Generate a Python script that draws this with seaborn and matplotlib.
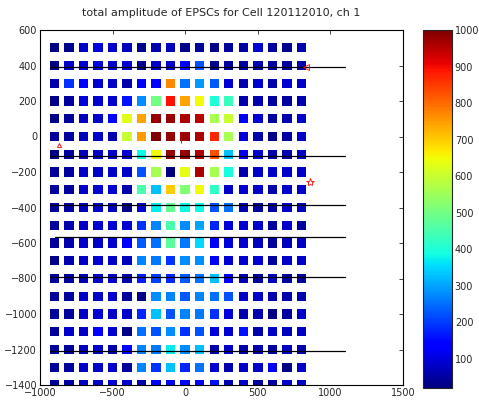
import matplotlib
matplotlib.use('Agg')
import matplotlib.pyplot as plt
import seaborn as sns
import numpy as np
import pandas as pd

sns.set_style('white')
plt.rcParams['font.family'] = ['DejaVu Sans']
plt.rcParams['font.size'] = 7

# grid positions (um)
x_pos = [-900, -800, -700, -600, -500, -400, -300, -200, -100,
         0, 100, 200, 300, 400, 500, 600, 700, 800]
y_pos = [500, 400, 300, 200, 100, 0, -100, -200, -300, -400,
         -500, -600, -700, -800, -900, -1000, -1100, -1200, -1300, -1400]

# total EPSC amplitude, one row per y position, columns follow x_pos
amp = np.array([
    [25, 30, 85, 100, 85, 75, 30, 60, 75, 35, 45, 30, 50, 50, 90, 50, 35, 60],
    [25, 85, 90, 100, 85, 90, 30, 85, 85, 140, 220, 35, 50, 50, 60, 50, 45, 60],
    [60, 190, 140, 90, 85, 60, 140, 140, 770, 250, 290, 230, 90, 60, 90, 60, 90, 85],
    [30, 50, 100, 90, 90, 160, 280, 500, 890, 740, 650, 400, 430, 60, 60, 50, 50, 60],
    [30, 45, 75, 85, 130, 630, 740, 980, 980, 960, 950, 560, 600, 140, 90, 50, 60, 85],
    [45, 50, 75, 85, 60, 600, 750, 1000, 980, 970, 960, 870, 560, 100, 60, 30, 50, 85],
    [30, 50, 75, 85, 85, 90, 380, 650, 980, 980, 960, 830, 330, 120, 90, 60, 60, 85],
    [45, 50, 85, 85, 85, 85, 220, 560, 20, 640, 960, 560, 390, 60, 85, 85, 85, 85],
    [50, 50, 85, 90, 90, 60, 450, 330, 700, 520, 650, 420, 85, 90, 85, 60, 85, 85],
    [45, 50, 75, 85, 75, 30, 90, 370, 480, 380, 380, 220, 250, 60, 50, 50, 85, 75],
    [45, 60, 85, 90, 90, 90, 190, 270, 450, 280, 300, 180, 100, 90, 85, 50, 85, 50],
    [45, 60, 90, 85, 90, 130, 230, 250, 470, 260, 350, 130, 100, 90, 75, 50, 75, 85],
    [30, 60, 85, 90, 85, 75, 270, 260, 190, 280, 280, 130, 90, 90, 90, 50, 85, 85],
    [45, 50, 60, 85, 85, 60, 170, 200, 180, 230, 250, 330, 120, 60, 50, 75, 50, 45],
    [45, 50, 85, 85, 85, 50, 25, 280, 270, 230, 270, 250, 220, 85, 85, 60, 60, 60],
    [45, 50, 85, 90, 85, 85, 180, 330, 220, 270, 260, 190, 100, 60, 60, 25, 50, 85],
    [45, 85, 85, 130, 90, 30, 250, 220, 280, 190, 220, 100, 90, 160, 60, 85, 75, 85],
    [45, 50, 75, 85, 60, 140, 270, 260, 370, 280, 330, 60, 85, 60, 60, 50, 75, 60],
    [45, 50, 85, 85, 85, 50, 270, 190, 330, 180, 250, 90, 60, 85, 85, 120, 25, 85],
    [45, 50, 85, 85, 90, 90, 60, 130, 120, 150, 120, 160, 60, 85, 50, 45, 85, 85],
])

# black layer lines: y level, x start, x end
line_y = [390, -110, -385, -565, -790, -1210]
line_x0 = [-930, -930, -930, -900, -930, -930]
line_x1 = [1100, 1100, 1100, 1100, 1100, 1100]

# red markers
star_x, star_y = 860, -258
tri_x, tri_y = 830, 390

vmin, vmax = 20, 1000
jet = matplotlib.colormaps['jet']

xx, yy = np.meshgrid(x_pos, y_pos)
df = pd.DataFrame({'x': xx.ravel(), 'y': yy.ravel(), 'amp': amp.ravel()})

fig = plt.figure(figsize=(4.79, 4.01), dpi=100)
ax = fig.add_axes([40 / 479, 16 / 401, 363 / 479, 355 / 401])
cax = fig.add_axes([423 / 479, 13 / 401, 29 / 479, 358 / 401])

sns.scatterplot(data=df, x='x', y='y', hue='amp', palette=jet,
                hue_norm=(vmin, vmax), marker='s', s=46, linewidth=0,
                legend=False, ax=ax, zorder=2)

for y, x0, x1 in zip(line_y, line_x0, line_x1):
    ax.plot([x0, x1], [y, y], color='black', lw=0.9, zorder=3)

ax.plot(star_x, star_y, marker='*', color='red', ms=6, mew=0.6,
        fillstyle='none', zorder=4)
ax.plot(tri_x, tri_y, marker='<', color='red', ms=4, mew=0.6,
        fillstyle='none', zorder=4)
ax.plot(-872, -48, marker='^', color='red', ms=3, mew=0.6,
        fillstyle='none', zorder=4)
ax.plot(-30, -25, marker='|', color='red', ms=3, mew=0.8, zorder=4)

ax.set_xlim(-1000, 1500)
ax.set_ylim(-1400, 600)
ax.set_xticks(range(-1000, 1501, 500))
ax.set_yticks(range(-1400, 601, 200))
ax.set_xlabel('')
ax.set_ylabel('')
ax.tick_params(direction='in', length=3, width=0.6, top=True, right=True,
               labelsize=7, pad=2)
for sp in ax.spines.values():
    sp.set_linewidth(0.8)
    sp.set_color('black')
ax.set_title('total amplitude of EPSCs for Cell 120112010, ch 1',
             fontsize=8, pad=10)

sm = plt.cm.ScalarMappable(cmap=jet, norm=plt.Normalize(vmin, vmax))
cb = fig.colorbar(sm, cax=cax, ticks=range(100, 1001, 100))
cb.outline.set_linewidth(0.8)
cax.tick_params(direction='in', length=3, width=0.6, left=True, right=True,
                labelsize=7, pad=2)

fig.savefig('out.png', dpi=100)
